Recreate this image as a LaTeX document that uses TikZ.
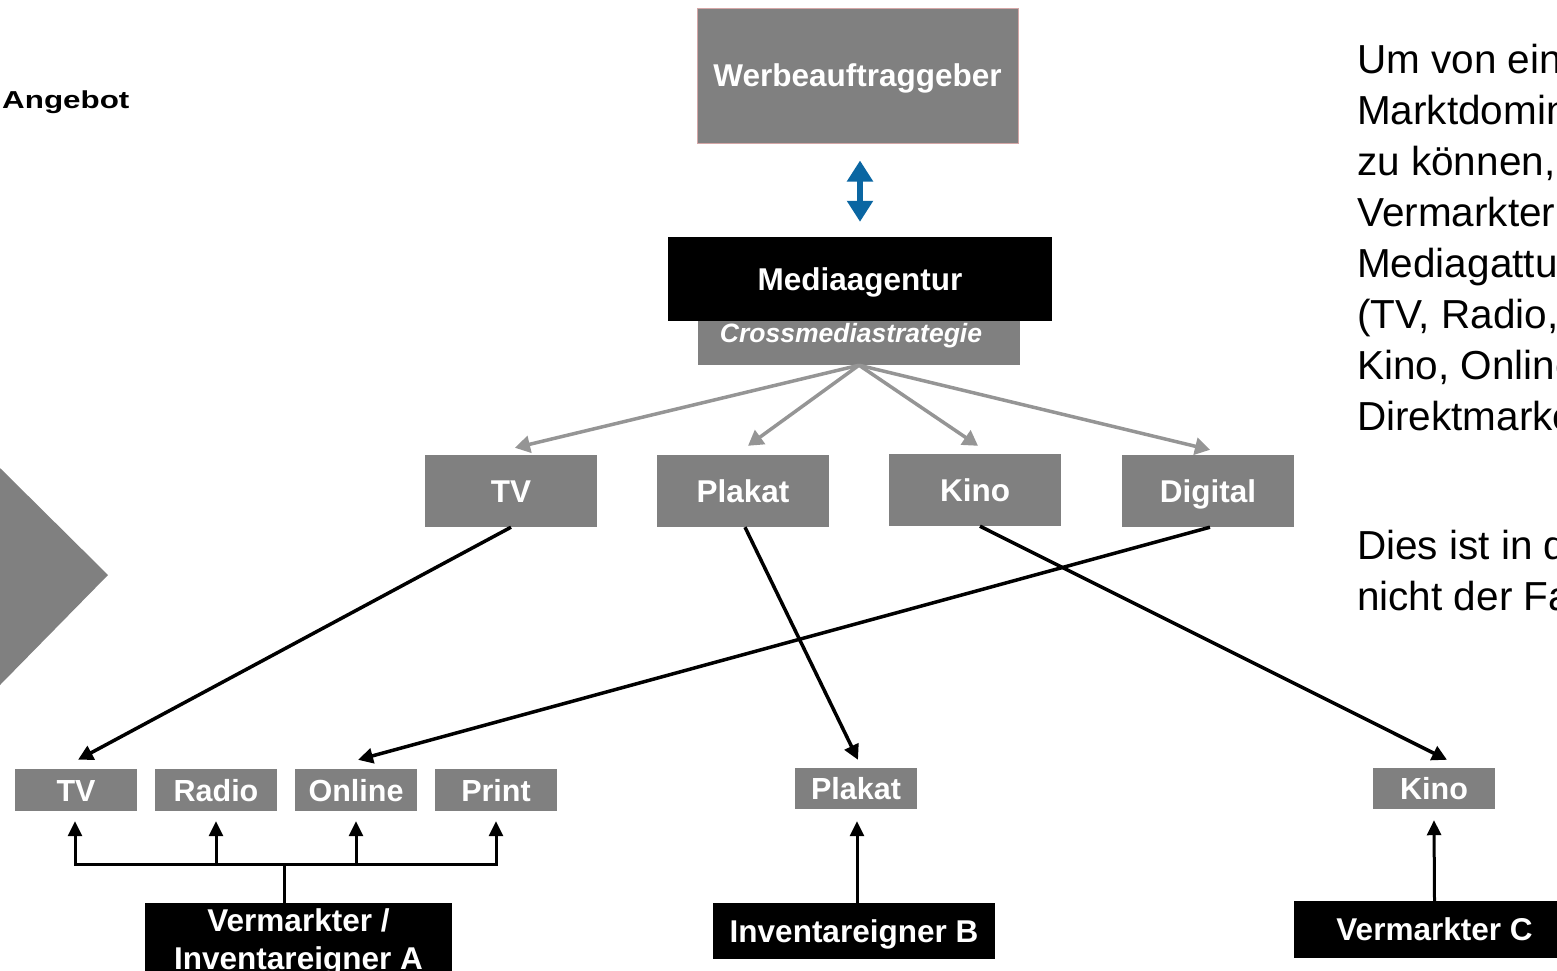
\documentclass[tikz,border=0pt]{standalone}
\usepackage{fontspec}
\setmainfont{Liberation Sans}
\usetikzlibrary{arrows.meta,calc}
\definecolor{boxgray}{HTML}{808080}
\definecolor{arrgray}{HTML}{959595}
\definecolor{bluearr}{HTML}{0A66A2}
\definecolor{rimpink}{HTML}{D4A6A6}
\begin{document}
\begin{tikzpicture}[x=1pt,y=-1pt,
  gbox/.style={fill=boxgray,text=white,inner sep=0pt,font=\bfseries\fontsize{31.5}{36}\selectfont,text height=22.5pt,text depth=0pt},
  sbox/.style={gbox,font=\bfseries\fontsize{30.5}{35}\selectfont,text height=22pt},
  bbox/.style={fill=black,text=white,inner sep=0pt,font=\bfseries\fontsize{31.5}{38}\selectfont},
  garrow/.style={draw=arrgray,line width=3.5pt,-{Triangle[length=15pt,width=17pt]}},
  karrow/.style={draw=black,line width=3.5pt,-{Triangle[length=15pt,width=15pt]}},
  uarrow/.style={draw=black,line width=3pt,line join=miter,-{Triangle[length=15pt,width=14pt]}},
  bodytext/.style={anchor=north west,inner sep=0pt,align=left,font=\fontsize{40.5}{51}\selectfont}
]
\useasboundingbox (0,0) rectangle (1557,970);
\clip (0,0) rectangle (1557,970);

% left label and triangle
\node[anchor=west,inner sep=0pt,font=\bfseries\fontsize{24.5}{28}\selectfont] (ang) at (2,102) {\scalebox{1.28}[1]{Angebot}};
\fill[boxgray] (0,468) -- (108,575) -- (0,685) -- cycle;

% top
\node[gbox,draw=rimpink,line width=1pt,minimum width=321pt,minimum height=135pt] (W) at (857.5,75.5) {Werbeauftraggeber};
\node[gbox,font=\bfseries\itshape\fontsize{26.5}{30}\selectfont,text height=19pt,minimum width=322pt,minimum height=65pt] (cs) at (859,332.5) {Crossmediastrategie\hspace*{16pt}};
\node[bbox,text height=22.5pt,text depth=0pt,minimum width=384pt,minimum height=84pt] (M) at (860,279) {Mediaagentur};
\draw[line width=6.5pt,bluearr,{Triangle[length=21pt,width=25pt]}-{Triangle[length=21pt,width=25pt]}] ($(W.south)+(2.5,17)$) -- ($(M.north)+(0,-15)$);

% media types
\node[gbox,minimum width=172pt,minimum height=72pt] (tv) at (511,491) {TV};
\node[gbox,minimum width=172pt,minimum height=72pt] (pl) at (743,491) {Plakat};
\node[gbox,minimum width=172pt,minimum height=72pt] (ki) at (975,490) {Kino};
\node[gbox,minimum width=172pt,minimum height=72pt] (di) at (1208,491) {Digital};

\draw[garrow] (cs.south) -- ([xshift=4pt,yshift=7pt]tv.north);
\draw[garrow] (cs.south) -- ([xshift=5pt,yshift=9pt]pl.north);
\draw[garrow] (cs.south) -- ([xshift=3pt,yshift=8pt]ki.north);
\draw[garrow] (cs.south) -- ([xshift=2pt,yshift=5pt]di.north);

% inventory
\node[sbox,minimum width=122pt,minimum height=42pt] (atv) at (76,790) {TV};
\node[sbox,minimum width=122pt,minimum height=42pt] (ara) at (216,790) {Radio};
\node[sbox,minimum width=122pt,minimum height=42pt] (aon) at (356,790) {Online};
\node[sbox,minimum width=122pt,minimum height=42pt] (apr) at (496,790) {Print};
\node[sbox,minimum width=122pt,minimum height=41pt] (bpl) at (856,788.5) {Plakat};
\node[sbox,minimum width=122pt,minimum height=41pt] (cki) at (1434,788.5) {Kino};

\draw[karrow] (tv.south) -- ([xshift=2pt,yshift=9pt]atv.north);
\draw[karrow] ([xshift=2pt]pl.south) -- ([xshift=2pt,yshift=8pt]bpl.north);
\draw[karrow] ([xshift=5pt]ki.south) -- ([xshift=13pt,yshift=8pt]cki.north);
\draw[karrow] ([xshift=2pt]di.south) -- ([xshift=2pt,yshift=9pt]aon.north);

% owners
\node[bbox,align=center,minimum width=307pt,minimum height=78pt] (A) at (298.5,942) {Vermarkter /\\Inventareigner A};
\node[bbox,text height=22.5pt,text depth=0pt,minimum width=282pt,minimum height=56pt] (B) at (854,931) {Inventareigner B};
\node[bbox,text height=22.5pt,text depth=0pt,minimum width=281pt,minimum height=57pt] (C) at (1434.5,929.5) {Vermarkter C};

\coordinate (hub) at (284,864);
\draw[line width=3pt] (hub |- A.north) -- (hub);
\draw[uarrow] (hub) -| ([xshift=-1pt,yshift=-10pt]atv.south);
\draw[uarrow] (hub) -| ([yshift=-10pt]ara.south);
\draw[uarrow] (hub) -| ([yshift=-10pt]aon.south);
\draw[uarrow] (hub) -| ([yshift=-10pt]apr.south);
\draw[uarrow] ([xshift=3pt]B.north) -- ([xshift=1pt,yshift=-12pt]bpl.south);
\draw[uarrow] (C.north) -- ([yshift=-11pt]cki.south);

% side text (cut off by the right edge, as in the reference)
\node[bodytext] (t1) at (1357,44) {Um von einer\\Marktdominanz\\zu können,\\Vermarkter\\Mediagattungen\\(TV, Radio,\\Kino, Online,\\Direktmarketing};
\node[bodytext] (t2) at (1357,530) {Dies ist in der\\nicht der Fall};
\end{tikzpicture}
\end{document}
